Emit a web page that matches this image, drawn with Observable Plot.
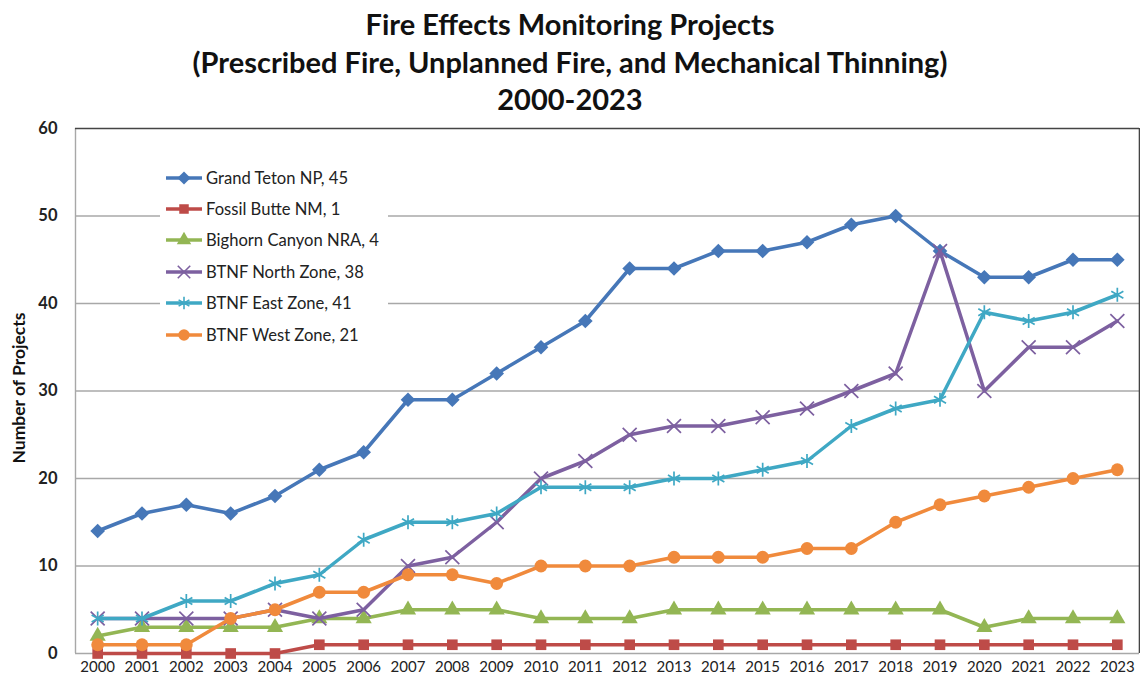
<!DOCTYPE html>
<html>
<head>
<meta charset="utf-8">
<script src="https://cdn.jsdelivr.net/npm/d3@7"></script>
<script src="https://cdn.jsdelivr.net/npm/@observablehq/plot@0.6"></script>
<style>
  body { margin: 0; background: #fff; font-family: Lato, "Open Sans", sans-serif; }
  #wrap { position: relative; width: 1140px; height: 684px; }
  #title { height: 110px; box-sizing: border-box; padding-top: 5px; text-align: center; font-weight: bold; font-size: 29px; line-height: 37.5px; color: #111; }
  #legend { position: absolute; left: 160px; top: 160px; width: 228px; height: 190px; background: #fff; box-sizing: border-box; padding-top: 2px; }
  .item { height: 31.4px; display: flex; align-items: center; font-size: 16.6px; color: #222; white-space: nowrap; }
  .item svg { margin-left: 5px; margin-right: 3px; flex: none; }
  #ylabel { position: absolute; left: 18px; top: 388px; transform: translate(-50%, -50%) rotate(-90deg); white-space: nowrap; font-weight: bold; font-size: 17.5px; color: #111; }
</style>
</head>
<body>
<div id="wrap">
  <div id="title">Fire Effects Monitoring Projects<br>(Prescribed Fire, Unplanned Fire, and Mechanical Thinning)<br>2000-2023</div>
  <div id="chart"></div>
  <div id="legend"></div>
  <div id="ylabel">Number of Projects</div>
</div>
<script>
const years = [2000,2001,2002,2003,2004,2005,2006,2007,2008,2009,2010,2011,2012,2013,2014,2015,2016,2017,2018,2019,2020,2021,2022,2023];
const seriesNames = ["Grand Teton NP, 45","Fossil Butte NM, 1","Bighorn Canyon NRA, 4","BTNF North Zone, 38","BTNF East Zone, 41","BTNF West Zone, 21"];
const grandTeton = [14,16,17,16,18,21,23,29,29,32,35,38,44,44,46,46,47,49,50,46,43,43,45,45];
const fossilButte = [0,0,0,0,0,1,1,1,1,1,1,1,1,1,1,1,1,1,1,1,1,1,1,1];
const bighorn = [2,3,3,3,3,4,4,5,5,5,4,4,4,5,5,5,5,5,5,5,3,4,4,4];
const btnfNorth = [4,4,4,4,5,4,5,10,11,15,20,22,25,26,26,27,28,30,32,46,30,35,35,38];
const btnfEast = [4,4,6,6,8,9,13,15,15,16,19,19,19,20,20,21,22,26,28,29,39,38,39,41];
const btnfWest = [1,1,1,4,5,7,7,9,9,8,10,10,10,11,11,11,12,12,15,17,18,19,20,21];
const yTicks = [0,10,20,30,40,50,60];

const colors = ["#4677b8","#be4b48","#93b654","#7d60a0","#3fa8c4","#f08a3c"];
const symbols = ["diamond2","square","triangle","times","asterisk","circle"];
const radii = [6.6,6.0,6.0,6.4,6.6,6.4];
const filled = [true,true,true,false,false,true];
const values = [grandTeton, fossilButte, bighorn, btnfNorth, btnfEast, btnfWest];

const data = [];
seriesNames.forEach((s, i) => years.forEach((yr, j) => data.push({series: s, idx: i, year: yr, value: values[i][j]})));

const seriesMarks = [];
seriesNames.forEach((s, i) => {
  const d = data.filter(r => r.idx === i);
  seriesMarks.push(Plot.line(d, {x: "year", y: "value", stroke: colors[i], strokeWidth: 3.5, strokeLinejoin: "round"}));
  seriesMarks.push(Plot.dot(d, filled[i]
    ? {x: "year", y: "value", symbol: () => symbols[i], r: radii[i], fill: colors[i], stroke: "none"}
    : {x: "year", y: "value", symbol: () => symbols[i], r: radii[i], fill: "none", stroke: colors[i], strokeWidth: 1.7}));
});

const chart = Plot.plot({
  width: 1140,
  height: 574,
  marginTop: 18,
  marginBottom: 31,
  marginLeft: 75,
  marginRight: 1,
  style: {fontFamily: "Lato, 'Open Sans', sans-serif", color: "#222"},
  x: {type: "linear", domain: [1999.5, 2023.5]},
  y: {domain: [0, 60]},
  symbol: {type: "identity"},
  marks: [
    Plot.ruleY([10,20,30,40,50], {stroke: "#a8a8a8", strokeWidth: 1.4}),
    Plot.ruleY([0], {stroke: "#a8a8a8", strokeWidth: 1.4}),
    Plot.ruleX([1999.5], {stroke: "#a8a8a8", strokeWidth: 1.4}),
    Plot.ruleY([60], {stroke: "#444", strokeWidth: 1.6}),
    Plot.ruleX([2023.5], {stroke: "#444", strokeWidth: 1.6}),
    Plot.axisX({ticks: years, tickFormat: d => String(d), tickSize: 0, tickPadding: 8, fontSize: 15, label: null}),
    Plot.axisY({ticks: yTicks, tickSize: 0, tickPadding: 18, fontSize: 16.5, fontWeight: "bold", label: null}),
    ...seriesMarks
  ]
});
document.getElementById("chart").appendChild(chart);

// legend
const legend = d3.select("#legend");
const symMap = {diamond2: d3.symbolDiamond2, square: d3.symbolSquare, triangle: d3.symbolTriangle, times: d3.symbolTimes, asterisk: d3.symbolAsterisk, circle: d3.symbolCircle};
seriesNames.forEach((s, i) => {
  const item = legend.append("div").attr("class", "item");
  const svg = item.append("svg").attr("width", 38).attr("height", 18);
  svg.append("line").attr("x1", 1).attr("x2", 37).attr("y1", 9).attr("y2", 9)
    .attr("stroke", colors[i]).attr("stroke-width", 3.5);
  const path = svg.append("path").attr("transform", "translate(19,9)")
    .attr("d", d3.symbol(symMap[symbols[i]], Math.PI * radii[i] * radii[i] * 0.8)());
  if (filled[i]) path.attr("fill", colors[i]);
  else path.attr("fill", "none").attr("stroke", colors[i]).attr("stroke-width", 1.6);
  item.append("span").text(s);
});
</script>
</body>
</html>
